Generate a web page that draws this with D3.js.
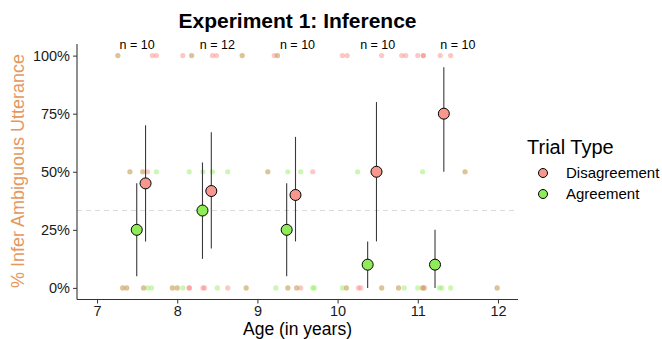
<!DOCTYPE html>
<html>
<head>
<meta charset="utf-8">
<script src="https://cdn.jsdelivr.net/npm/d3@7"></script>
<style>
  body { margin: 0; background: #fff; }
  svg { font-family: "Liberation Sans", Arial, sans-serif; }
</style>
</head>
<body>
<svg id="chart" width="662" height="339"></svg>
<script>
// individual children: [age, proportion]
const disagreePoints = [
    [7.26, 1], [7.69, 1], [7.74, 1], [8.07, 1], [8.18, 1], [8.44, 1], [8.49, 1], [8.81, 1],
    [9.21, 1], [9.25, 1], [10.06, 1], [10.12, 1], [10.55, 1], [10.80, 1], [10.85, 1],
    [11.00, 1], [11.07, 1], [11.07, 1], [11.28, 1], [11.41, 1],
    [7.41, 0.5], [7.57, 0.5], [7.63, 0.5], [9.13, 0.5], [9.69, 0.5], [11.59, 0.5],
    [7.32, 0], [7.37, 0], [7.58, 0], [7.94, 0], [8.00, 0], [8.15, 0], [8.15, 0], [8.32, 0],
    [8.34, 0], [8.63, 0], [8.86, 0], [9.38, 0], [9.49, 0], [9.54, 0], [10.11, 0], [10.26, 0],
    [10.29, 0], [10.55, 0], [10.76, 0], [11.06, 0], [11.08, 0], [11.99, 0]
];
const agreePoints = [
    [7.26, 1], [8.18, 1], [8.81, 1], [9.25, 1],
    [7.41, 0.5], [7.57, 0.5], [7.74, 0.5], [8.15, 0.5], [8.32, 0.5], [8.44, 0.5], [8.63, 0.5],
    [9.13, 0.5], [9.38, 0.5], [9.54, 0.5], [10.25, 0.5], [10.53, 0.5], [11.06, 0.5], [11.59, 0.5],
    [7.32, 0], [7.37, 0], [7.58, 0], [7.63, 0], [7.68, 0], [7.94, 0], [8.00, 0], [8.07, 0],
    [8.50, 0], [8.86, 0], [9.23, 0], [9.38, 0], [9.49, 0], [9.69, 0], [9.71, 0], [10.06, 0],
    [10.11, 0], [10.55, 0], [10.76, 0], [10.83, 0], [11.00, 0], [11.06, 0], [11.08, 0],
    [11.27, 0], [11.30, 0], [11.41, 0], [11.99, 0]
];

// age group summaries
const groupCenters = [7.5, 8.5, 9.5, 10.5, 11.5];
const groupN = [10, 12, 10, 10, 10];
const meanAges = [7.55, 8.37, 9.42, 10.43, 11.27];
const disagreeMean = [0.45, 0.417, 0.40, 0.50, 0.75];
const disagreeLo = [0.20, 0.17, 0.20, 0.20, 0.50];
const disagreeHi = [0.70, 0.67, 0.65, 0.80, 0.95];
const agreeMean = [0.25, 0.333, 0.25, 0.10, 0.10];
const agreeLo = [0.05, 0.125, 0.05, 0.0, 0.0];
const agreeHi = [0.45, 0.54, 0.45, 0.20, 0.25];

const xTicks = [7, 8, 9, 10, 11, 12];
const yTicks = [0, 0.25, 0.5, 0.75, 1];
const chance = 1 / 3;
const trialTypes = ["Disagreement", "Agreement"];

// dots use strong hues at low opacity, means use the lighter fills
const dotD = "#F8766D", dotA = "#8FEE55";
const fillD = "#F8978E", fillA = "#8FEB58";
const dodge = 0.055;

const svg = d3.select("#chart");
const x = d3.scaleLinear().domain([6.75, 12.25]).range([77, 518]);
const y = d3.scaleLinear().domain([-0.05, 1.05]).range([299.5, 44]);

// raw points: agreement first, disagreement on top
const pts = svg.append("g");
pts.selectAll(".ptA").data(agreePoints).join("circle")
    .attr("cx", d => x(d[0])).attr("cy", d => y(d[1])).attr("r", 2.6)
    .attr("fill", dotA).attr("fill-opacity", 0.45);
pts.selectAll(".ptD").data(disagreePoints).join("circle")
    .attr("cx", d => x(d[0])).attr("cy", d => y(d[1])).attr("r", 2.6)
    .attr("fill", dotD).attr("fill-opacity", 0.4);

// chance line
svg.append("line")
    .attr("x1", x.range()[0]).attr("x2", x.range()[1])
    .attr("y1", y(chance)).attr("y2", y(chance))
    .attr("stroke", "#d9d9d9").attr("stroke-dasharray", "5,4").attr("stroke-width", 1);

// error bars + means
const summary = meanAges.map((a, i) => [
    {type: "Agreement", age: a - dodge, m: agreeMean[i], lo: agreeLo[i], hi: agreeHi[i]},
    {type: "Disagreement", age: a + dodge, m: disagreeMean[i], lo: disagreeLo[i], hi: disagreeHi[i]}
]).flat();

svg.append("g").selectAll("line").data(summary).join("line")
    .attr("x1", d => x(d.age)).attr("x2", d => x(d.age))
    .attr("y1", d => y(d.lo)).attr("y2", d => y(d.hi))
    .attr("stroke", "#3a3a3a").attr("stroke-width", 1.1);

svg.append("g").selectAll("circle").data(summary).join("circle")
    .attr("cx", d => x(d.age)).attr("cy", d => y(d.m)).attr("r", 5.5)
    .attr("fill", d => d.type === "Disagreement" ? fillD : fillA)
    .attr("stroke", "#000").attr("stroke-width", 1);

// n labels
svg.append("g").selectAll("text").data(groupCenters).join("text")
    .attr("x", d => x(d)).attr("y", y(1.05) + 5)
    .attr("text-anchor", "middle").attr("font-size", 12.5).attr("fill", "#000")
    .text((d, i) => `n = ${groupN[i]}`);

// axes
const xAxis = svg.append("g").attr("transform", "translate(0,299.5)")
    .call(d3.axisBottom(x).tickValues(xTicks).tickSize(4).tickPadding(2).tickFormat(d3.format("d")));
const yAxis = svg.append("g").attr("transform", "translate(77,0)")
    .call(d3.axisLeft(y).tickValues(yTicks).tickSize(4).tickPadding(3).tickFormat(d3.format(".0%")));
[xAxis, yAxis].forEach(a => {
    a.select(".domain").attr("stroke", "#333").attr("stroke-width", 1.1);
    a.selectAll(".tick line").attr("stroke", "#333");
    a.selectAll(".tick text").attr("font-size", 14.5).attr("fill", "#1a1a1a")
        .attr("font-family", "Liberation Sans, Arial, sans-serif");
});
xAxis.select(".domain").attr("d", `M${x.range()[0]},0H${x.range()[1]}`);
yAxis.select(".domain").attr("d", `M0,${y.range()[0]}V${y.range()[1]}`);

// titles
svg.append("text").attr("x", 297.5).attr("y", 28).attr("text-anchor", "middle")
    .attr("font-size", 21).attr("font-weight", "bold").text("Experiment 1: Inference");
svg.append("text").attr("x", 297.5).attr("y", 335).attr("text-anchor", "middle")
    .attr("font-size", 17.5).text("Age (in years)");
svg.append("text").attr("transform", "translate(24,171) rotate(-90)")
    .attr("text-anchor", "middle").attr("font-size", 18).attr("fill", "#E5975F")
    .text("% Infer Ambiguous Utterance");

// legend
const legend = svg.append("g").attr("transform", "translate(527,0)");
legend.append("text").attr("x", 0).attr("y", 154).attr("font-size", 20).text("Trial Type");
legend.selectAll("circle").data(trialTypes).join("circle")
    .attr("cx", 16).attr("cy", (d, i) => 173 + i * 21).attr("r", 4.5)
    .attr("fill", d => d === "Disagreement" ? fillD : fillA)
    .attr("stroke", "#000").attr("stroke-width", 1);
legend.selectAll(".lt").data(trialTypes).join("text")
    .attr("x", 39).attr("y", (d, i) => 178 + i * 21).attr("font-size", 15).text(d => d);
</script>
</body>
</html>
